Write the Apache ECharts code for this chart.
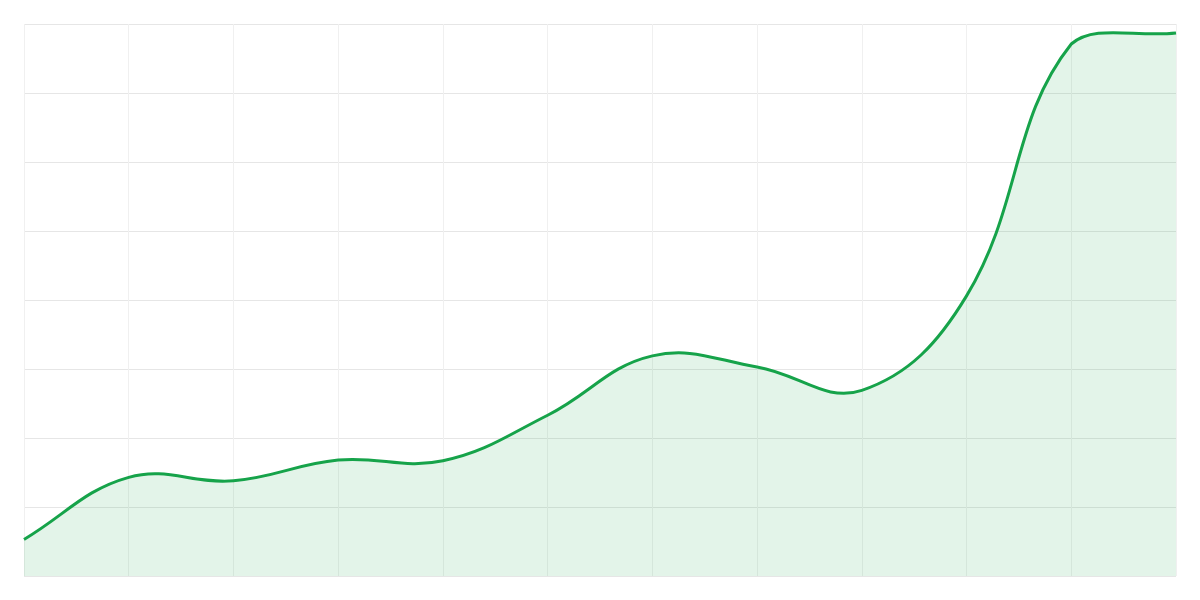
<!DOCTYPE html>
<html>
<head>
<meta charset="utf-8">
<script src="https://cdn.jsdelivr.net/npm/echarts@6/dist/echarts.min.js"></script>
<style>
  html, body { margin: 0; padding: 0; background: #fff; }
  #chart { width: 1200px; height: 600px; }
</style>
</head>
<body>
<div id="chart"></div>
<script>
var categories = ['1', '2', '3', '4', '5', '6', '7', '8', '9', '10', '11', '12'];
var values = [5.3, 14.3, 13.8, 16.8, 16.7, 23.3, 31.9, 30.3, 26.9, 40.6, 77.1, 78.7];

var lineColor = '#16a34a';
var fillColor = 'rgba(22,163,74,0.12)';
var tension = 0.4;

var chart = echarts.init(document.getElementById('chart'));

// spline through the points, control points kept inside the plot area
function renderCurve(params, api) {
    if (params.dataIndex !== 0) return { type: 'group', children: [] };
    var cs = params.coordSys;
    var left = cs.x, right = cs.x + cs.width, top = cs.y, bottom = cs.y + cs.height;
    var pts = values.map(function (v, i) { return api.coord([i, v]); });
    var n = pts.length;
    var cps = [];
    for (var i = 0; i < n; i++) {
        var cur = pts[i];
        var prev = pts[i - 1] || cur;
        var next = pts[i + 1] || cur;
        var d01 = Math.hypot(cur[0] - prev[0], cur[1] - prev[1]);
        var d12 = Math.hypot(next[0] - cur[0], next[1] - cur[1]);
        var s01 = d01 / (d01 + d12) || 0;
        var s12 = d12 / (d01 + d12) || 0;
        var fa = tension * s01, fb = tension * s12;
        var inCp = [cur[0] - fa * (next[0] - prev[0]), cur[1] - fa * (next[1] - prev[1])];
        var outCp = [cur[0] + fb * (next[0] - prev[0]), cur[1] + fb * (next[1] - prev[1])];
        [inCp, outCp].forEach(function (p) {
            p[0] = Math.min(Math.max(p[0], left), right);
            p[1] = Math.min(Math.max(p[1], top), bottom);
        });
        cps.push({ inCp: inCp, outCp: outCp });
    }
    var d = 'M' + pts[0][0] + ' ' + pts[0][1];
    for (var k = 1; k < n; k++) {
        var a = cps[k - 1].outCp, b = cps[k].inCp;
        d += ' C' + a[0] + ' ' + a[1] + ' ' + b[0] + ' ' + b[1] + ' ' + pts[k][0] + ' ' + pts[k][1];
    }
    var area = d + ' L' + pts[n - 1][0] + ' ' + bottom + ' L' + pts[0][0] + ' ' + bottom + ' Z';
    return {
        type: 'group',
        children: [
            { type: 'path', shape: { pathData: area }, style: { fill: fillColor, stroke: null } },
            { type: 'path', shape: { pathData: d }, style: { fill: null, stroke: lineColor, lineWidth: 3, lineJoin: 'round' } }
        ]
    };
}

var option = {
    animation: false,
    grid: { left: 24, right: 24, top: 24, bottom: 24 },
    xAxis: {
        type: 'category',
        boundaryGap: false,
        data: categories,
        axisLine: { show: false },
        axisTick: { show: false },
        axisLabel: { show: false },
        splitLine: { show: true, lineStyle: { color: '#f0f0f0', width: 1 } }
    },
    yAxis: {
        type: 'value',
        min: 0,
        max: 80,
        interval: 10,
        axisLine: { show: false },
        axisTick: { show: false },
        axisLabel: { show: false },
        splitLine: { lineStyle: { color: '#e6e6e6', width: 1 } }
    },
    series: [
        {
            type: 'custom',
            renderItem: renderCurve,
            data: values.map(function (v, i) { return [i, v]; }),
            encode: { x: 0, y: 1 }
        }
    ]
};
chart.setOption(option);
</script>
</body>
</html>
